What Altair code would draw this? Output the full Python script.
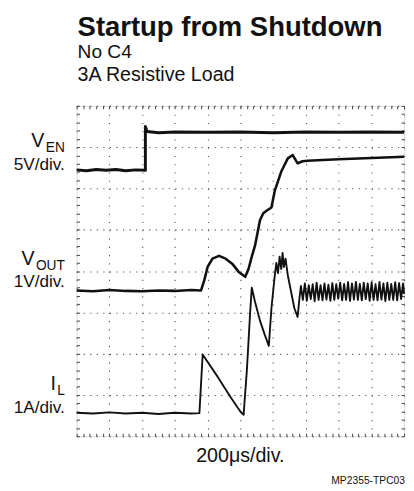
import altair as alt
import pandas as pd

# (time in divisions, level in divisions)
VEN = [(0.0, 6.45), (0.3, 6.43), (0.6, 6.46), (0.9, 6.44), (1.2, 6.46), (1.5, 6.43),
       (1.8, 6.45), (2.1, 6.44), (2.1, 7.50), (2.15, 7.38), (2.5, 7.35), (3.0, 7.37),
       (4.0, 7.36), (5.0, 7.37), (6.0, 7.35), (7.0, 7.37), (8.0, 7.36), (9.0, 7.37), (10.0, 7.36)]

VOUT = [(0.0, 3.53), (0.5, 3.51), (1.0, 3.54), (1.5, 3.52), (2.0, 3.51), (2.5, 3.53),
        (3.0, 3.52), (3.5, 3.54), (3.8, 3.53), (3.9, 3.78), (4.0, 4.10), (4.15, 4.30),
        (4.35, 4.37), (4.55, 4.30), (4.75, 4.18), (4.95, 3.98), (5.15, 3.86), (5.25, 4.05),
        (5.35, 4.35), (5.45, 4.62), (5.6, 5.23), (5.7, 5.40), (5.8, 5.46), (5.95, 5.54),
        (6.05, 5.94), (6.25, 6.41), (6.45, 6.73), (6.6, 6.81), (6.75, 6.61), (6.9, 6.66),
        (7.05, 6.67), (8.0, 6.71), (9.0, 6.74), (10.0, 6.77)]

IL = [(0.0, 0.57), (0.5, 0.55), (1.0, 0.58), (1.5, 0.55), (2.0, 0.57), (2.5, 0.54),
      (3.0, 0.57), (3.5, 0.55), (3.75, 0.56), (3.85, 1.98), (3.9, 1.92), (4.3, 1.45),
      (4.7, 0.95), (5.0, 0.60), (5.1, 0.52), (5.2, 1.60), (5.3, 3.00), (5.35, 3.60),
      (5.45, 3.25), (5.6, 2.80), (5.75, 2.45), (5.87, 2.19), (5.95, 3.10), (6.05, 3.88),
      (6.1, 4.20), (6.15, 3.95), (6.2, 4.35), (6.25, 4.05), (6.29, 4.44), (6.33, 4.10),
      (6.38, 4.30), (6.45, 3.90), (6.55, 3.50), (6.65, 3.10), (6.75, 2.89), (6.8, 3.30),
      (6.85, 3.64), (6.91, 3.30), (6.97, 3.70), (7.03, 3.28), (7.09, 3.66), (7.15, 3.32),
      (7.21, 3.68), (7.27, 3.27), (7.33, 3.72), (7.39, 3.30), (7.45, 3.66), (7.51, 3.29),
      (7.57, 3.70), (7.63, 3.31), (7.69, 3.67), (7.75, 3.28), (7.81, 3.71), (7.87, 3.30),
      (7.93, 3.68), (7.99, 3.33), (8.05, 3.72), (8.11, 3.29), (8.17, 3.69), (8.23, 3.30),
      (8.29, 3.73), (8.35, 3.28), (8.41, 3.70), (8.47, 3.31), (8.53, 3.74), (8.59, 3.30),
      (8.65, 3.69), (8.71, 3.29), (8.77, 3.72), (8.83, 3.32), (8.89, 3.70), (8.95, 3.28),
      (9.01, 3.73), (9.07, 3.30), (9.13, 3.68), (9.19, 3.29), (9.25, 3.74), (9.31, 3.31),
      (9.37, 3.70), (9.43, 3.27), (9.49, 3.72), (9.55, 3.30), (9.61, 3.69), (9.67, 3.30),
      (9.73, 3.73), (9.79, 3.29), (9.85, 3.71), (9.91, 3.32), (9.97, 3.70), (10.0, 3.45)]

TRACE_WIDTH = {"VEN": 3.0, "VOUT": 2.6, "IL": 1.9}

rows = []
for name, pts in (("VEN", VEN), ("VOUT", VOUT), ("IL", IL)):
    for i, (t, v) in enumerate(pts):
        rows.append({"trace": name, "t": t, "v": v, "i": i, "w": TRACE_WIDTH[name]})
df = pd.DataFrame(rows)

FONT = "Liberation Sans"
W, H = 334, 337
xs = alt.Scale(domain=[0, 10], nice=False, zero=False)
ys = alt.Scale(domain=[0, 8], nice=False, zero=False)

major_x = list(range(11))
major_y = list(range(9))
minor_x = [round(k * 0.2, 1) for k in range(51)]
minor_y = [round(k * 0.2, 1) for k in range(41)]

base = alt.Chart(df)

grid_axis_x = alt.Axis(values=major_x, grid=True, gridDash=[1.2, 7.22], gridColor="#555",
                       gridWidth=1.1, ticks=False, labels=False, domain=False, title=None)
grid_axis_y = alt.Axis(values=major_y, grid=True, gridDash=[1.2, 5.48], gridColor="#555",
                       gridWidth=1.1, ticks=False, labels=False, domain=False, title=None)

traces = base.mark_line(color="#111", strokeJoin="round").encode(
    x=alt.X("t:Q", scale=xs, axis=grid_axis_x),
    y=alt.Y("v:Q", scale=ys, axis=grid_axis_y),
    detail="trace:N",
    order="i:Q",
    strokeWidth=alt.StrokeWidth("w:Q", scale=None, legend=None),
)


def tick_axis(orient, vals):
    return alt.Axis(orient=orient, values=vals, grid=False, ticks=True, tickSize=3,
                    tickColor="#444", tickWidth=1, offset=-3, labels=False,
                    domain=False, title=None)


ticks_bl = base.mark_line(opacity=0).encode(
    x=alt.X("t:Q", scale=xs, axis=tick_axis("bottom", minor_x)),
    y=alt.Y("v:Q", scale=ys, axis=tick_axis("left", minor_y)),
    detail="trace:N",
)
ticks_tr = base.mark_line(opacity=0).encode(
    x=alt.X("t:Q", scale=xs, axis=tick_axis("top", minor_x)),
    y=alt.Y("v:Q", scale=ys, axis=tick_axis("right", minor_y)),
    detail="trace:N",
)


def label(text, x, y, size, align="left", weight="normal"):
    return alt.Chart(pd.DataFrame({"s": [text]})).mark_text(
        font=FONT, fontSize=size, fontWeight=weight, align=align, baseline="alphabetic",
        color="#111"
    ).encode(x=alt.value(x), y=alt.value(y), text="s:N")


texts = [
    label("Startup from Shutdown", 1, -71, 28, weight="bold"),
    label("No C4", 1, -49, 19.5),
    label("3A Resistive Load", 1, -25, 20),
    label("V", -33, 42, 20, align="right"),
    label("EN", -12, 47, 14, align="right"),
    label("5V/div.", -12, 65, 17.5, align="right"),
    label("V", -43, 162, 20, align="right"),
    label("OUT", -12, 167, 14, align="right"),
    label("1V/div.", -12, 185, 17.5, align="right"),
    label("I", -21, 290, 20, align="right"),
    label("L", -12, 295, 14, align="right"),
    label("1A/div.", -12, 313, 17.5, align="right"),
    label("200μs/div.", 167, 363, 20, align="center"),
    label("MP2355-TPC03", 335, 386, 10.5, align="right"),
]

chart = alt.layer(traces, ticks_bl, ticks_tr, *texts).resolve_axis(
    x="independent", y="independent"
).properties(
    width=W, height=H,
    autosize=alt.AutoSizeParams(type="none"),
    padding={"left": 70, "top": 95, "right": 2, "bottom": 52},
).configure_view(
    stroke="#222", strokeWidth=2.6
).configure(background="white")

chart.save("out.html", embed_options={"renderer": "svg", "actions": False})
